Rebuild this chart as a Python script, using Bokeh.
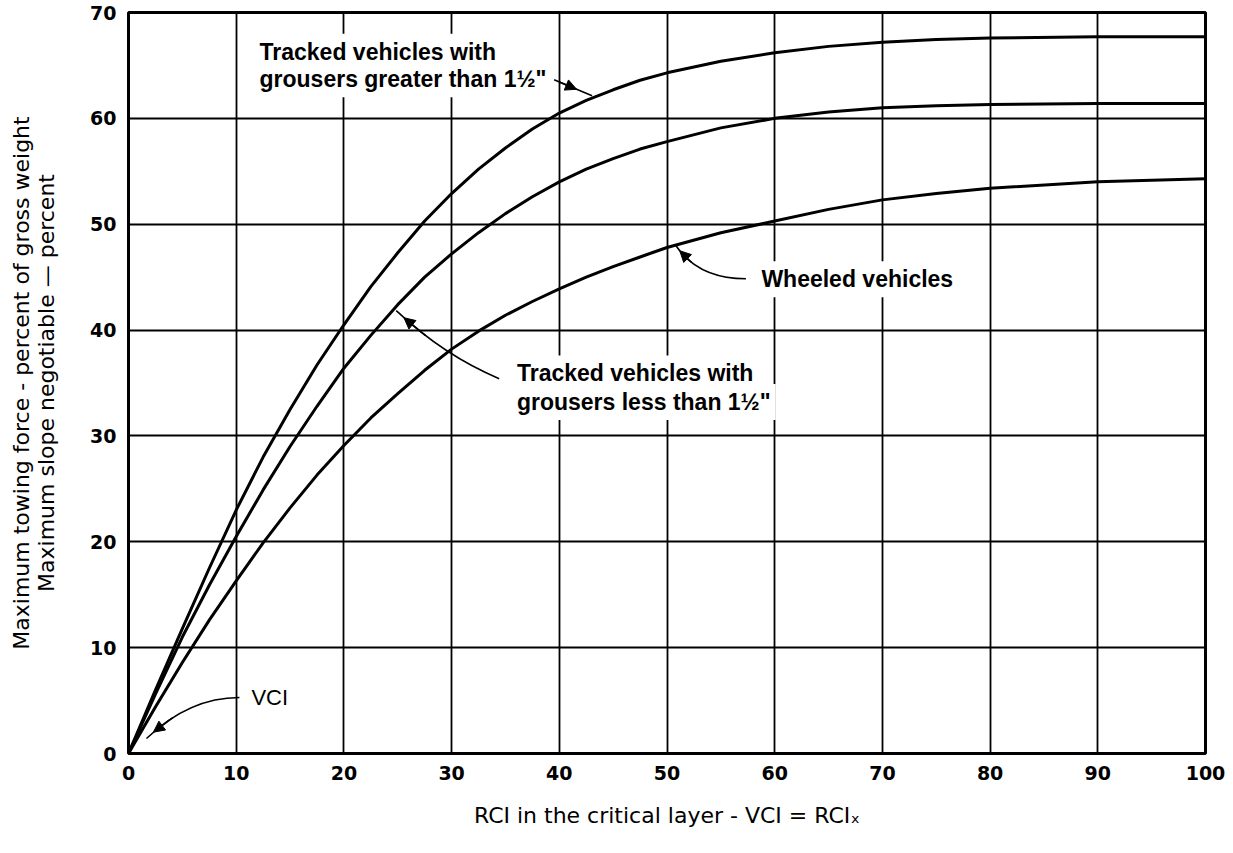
from bokeh.plotting import figure
from bokeh.models import Range1d, LinearAxis, FixedTicker, Label, Arrow, NormalHead
from bokeh.embed import file_html
from bokeh.resources import INLINE

# ---- data ----
rci = [0, 2.5, 5, 7.5, 10, 12.5, 15, 17.5, 20, 22.5, 25, 27.5, 30, 32.5, 35, 37.5,
       40, 42.5, 45, 47.5, 50, 55, 60, 65, 70, 75, 80, 90, 100]
tracked_gt = [0, 6.0, 11.8, 17.5, 23.0, 28.0, 32.5, 36.7, 40.5, 44.1, 47.3, 50.3, 52.9, 55.2, 57.2, 59.0,
              60.5, 61.7, 62.7, 63.6, 64.3, 65.4, 66.2, 66.8, 67.2, 67.45, 67.6, 67.7, 67.7]
tracked_lt = [0, 5.6, 11.0, 15.9, 20.5, 24.9, 29.0, 32.8, 36.4, 39.5, 42.4, 45.0, 47.2, 49.2, 51.0, 52.6,
              54.0, 55.2, 56.2, 57.1, 57.8, 59.1, 60.0, 60.6, 61.0, 61.2, 61.3, 61.4, 61.4]
wheeled = [0, 4.4, 8.6, 12.6, 16.3, 19.9, 23.2, 26.3, 29.1, 31.7, 34.0, 36.2, 38.2, 39.9, 41.4, 42.7,
           43.9, 45.0, 46.0, 46.9, 47.8, 49.2, 50.3, 51.4, 52.3, 52.9, 53.4, 54.0, 54.3]

x_ticks = [0, 10, 20, 30, 40, 50, 60, 70, 80, 90, 100]
y_ticks = [0, 10, 20, 30, 40, 50, 60, 70]
x_tick_labels = ["0", "10", "20", "30", "40", "50", "60", "70", "80", "90", "100"]
y_tick_labels = ["0", "10", "20", "30", "40", "50", "60", "70"]

x_title = "RCI in the critical layer - VCI = RCI\u2093"
y_title_1 = "Maximum towing force - percent of gross weight"
y_title_2 = "Maximum slope negotiable \u2014 percent"

FONT = "Liberation Sans"
TITLE_FONT = "DejaVu Sans"
TICK_FONT = "DejaVu Sans"

p = figure(width=1225, height=845, x_range=Range1d(0, 100), y_range=Range1d(0, 70),
           output_backend="svg", toolbar_location=None,
           min_border_left=128, min_border_right=20, min_border_top=12, min_border_bottom=92)

p.background_fill_color = "white"
p.border_fill_color = "white"
p.outline_line_color = "black"
p.outline_line_width = 3

# grid
p.xgrid.ticker = FixedTicker(ticks=x_ticks)
p.ygrid.ticker = FixedTicker(ticks=y_ticks)
for g in (p.xgrid, p.ygrid):
    g.grid_line_color = "black"
    g.grid_line_width = 1.8
    g.grid_line_alpha = 1.0

# axes
xa = p.xaxis[0]
xa.ticker = FixedTicker(ticks=x_ticks)
xa.major_label_overrides = {t: l for t, l in zip(x_ticks, x_tick_labels)}
ya = p.yaxis[0]
ya.ticker = FixedTicker(ticks=y_ticks)
ya.major_label_overrides = {t: l for t, l in zip(y_ticks, y_tick_labels)}
for ax in (xa, ya):
    ax.axis_line_color = None
    ax.major_tick_line_color = None
    ax.minor_tick_line_color = None
    ax.major_tick_out = 0
    ax.major_tick_in = 0
    ax.major_label_text_font = TICK_FONT
    ax.major_label_text_font_style = "bold"
    ax.major_label_text_font_size = "19px"
    ax.major_label_text_color = "black"
    ax.major_label_standoff = 12
    ax.axis_label_text_font = TITLE_FONT
    ax.axis_label_text_font_style = "normal"
    ax.axis_label_text_font_size = "22px"
    ax.axis_label_text_color = "black"

xa.axis_label = x_title
xa.axis_label_standoff = 20
ya.axis_label = y_title_2
ya.axis_label_standoff = 28

outer = LinearAxis(axis_label=y_title_1, ticker=FixedTicker(ticks=[]),
                   axis_line_color=None, major_tick_line_color=None, minor_tick_line_color=None,
                   major_tick_out=0, major_tick_in=0, major_label_standoff=0,
                   axis_label_standoff=-2, axis_label_text_font=TITLE_FONT,
                   axis_label_text_font_style="normal", axis_label_text_font_size="22px",
                   axis_label_text_color="black")
p.add_layout(outer, "left")

# curves
for series in (tracked_gt, tracked_lt, wheeled):
    p.line(rci, series, line_color="black", line_width=3, line_join="round")

# ---- annotations (leaders + labels) ----
def qpoint(p0, c, p1, t):
    return ((1 - t) ** 2 * p0[0] + 2 * (1 - t) * t * c[0] + t ** 2 * p1[0],
            (1 - t) ** 2 * p0[1] + 2 * (1 - t) * t * c[1] + t ** 2 * p1[1])

leaders = [
    ((10.3, 5.29), (5.66, 5.29), (1.67, 1.42)),        # VCI
    ((57.33, 44.85), (52.9, 44.85), (50.84, 47.97)),   # wheeled
    ((34.42, 35.41), (29.31, 37.58), (24.86, 41.83)),  # tracked < 1.5"
]
for p0, c, p1 in leaders:
    p.quadratic(x0=[p0[0]], y0=[p0[1]], x1=[p1[0]], y1=[p1[1]], cx=[c[0]], cy=[c[1]],
                line_color="black", line_width=1.6)
    s = qpoint(p0, c, p1, 0.7)
    e = qpoint(p0, c, p1, 0.92)
    p.add_layout(Arrow(end=NormalHead(size=11, fill_color="black", line_color="black", line_width=1),
                       x_start=s[0], y_start=s[1], x_end=e[0], y_end=e[1],
                       line_color="black", line_width=1.6))

# straight leader for the upper label
p.line([39.52, 43.04], [63.64, 62.13], line_color="black", line_width=1.6)
p.add_layout(Arrow(end=NormalHead(size=11, fill_color="black", line_color="black", line_width=1),
                   x_start=40.0, y_start=63.43, x_end=41.6, y_end=62.75,
                   line_color="black", line_width=1.6))

def add_label(x, y, text, bold=True, size="23px"):
    p.add_layout(Label(x=x, y=y, text=text, text_font=FONT,
                       text_font_style="bold" if bold else "normal",
                       text_font_size=size, text_color="black",
                       text_baseline="middle", text_align="left",
                       background_fill_color="white", background_fill_alpha=1.0,
                       padding=5))

add_label(11.7, 66.3, "Tracked vehicles with")
add_label(11.7, 63.7, "grousers greater than 1\u00bd\"")
add_label(35.6, 35.9, "Tracked vehicles with")
add_label(35.6, 33.2, "grousers less than 1\u00bd\"")
add_label(58.3, 44.8, "Wheeled vehicles")
add_label(10.95, 5.3, "VCI", bold=False, size="22px")

open("out.html", "w").write(file_html(p, INLINE))
